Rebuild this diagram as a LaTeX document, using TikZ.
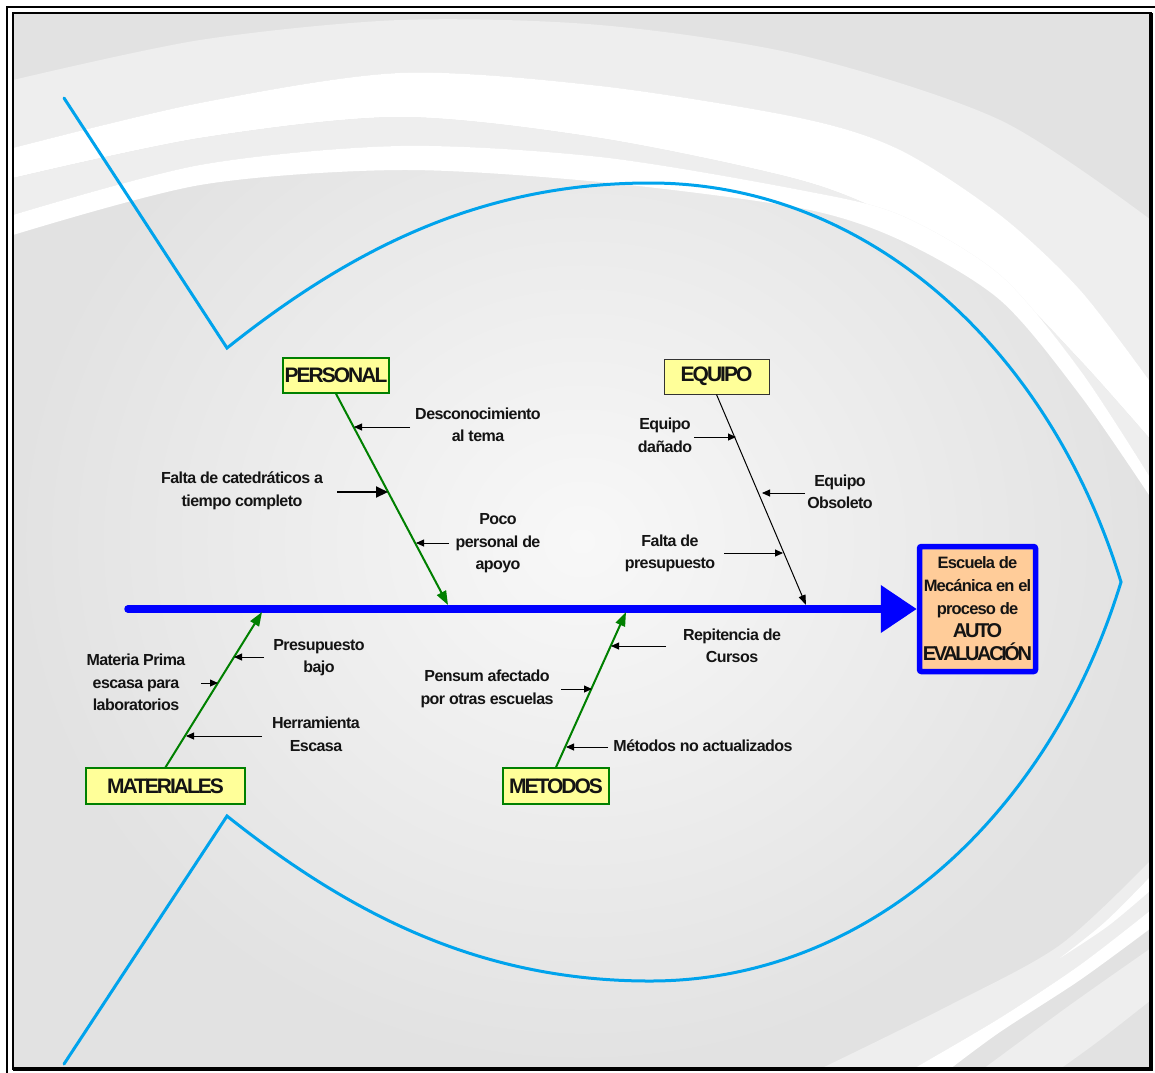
\documentclass[tikz,border=0pt]{standalone}
\usepackage{fontspec}
\setmainfont{Liberation Sans}
\newfontfamily\causef{Liberation Sans Bold}[LetterSpace=-3.5]
\newfontfamily\titf{Liberation Sans Bold}[LetterSpace=-9.5]
\newfontfamily\headf{Liberation Sans Bold}[LetterSpace=-5]
\newfontfamily\headbf{Liberation Sans Bold}[LetterSpace=-12]
\usetikzlibrary{arrows.meta,calc}
\definecolor{fishblue}{RGB}{0,163,236}
\definecolor{bonegreen}{RGB}{0,128,0}
\definecolor{boxyellow}{RGB}{255,255,153}
\definecolor{headfill}{RGB}{255,204,153}
\definecolor{bgout}{RGB}{226,226,226}
\definecolor{bgin}{RGB}{248,248,248}
\definecolor{bandlight}{RGB}{238,238,238}
\definecolor{txt}{RGB}{20,20,20}
\begin{document}
\begin{tikzpicture}[x=1pt,y=-1pt,
  cause/.style={font=\causef\fontsize{16}{22.5}\selectfont, text=txt, align=center, inner sep=0pt},
  catbox/.style={draw=bonegreen, line width=1.5pt, fill=boxyellow, inner sep=0pt, text=txt, font=\titf\fontsize{21}{24}\selectfont},
  bone/.style={draw=bonegreen, line width=2pt, -{Triangle[length=14pt,width=10pt]}},
  sub/.style={draw=black, line width=0.9pt, -{Triangle[length=8pt,width=7pt]}},
  subbig/.style={draw=black, line width=2pt, -{Triangle[length=12pt,width=11pt]}},
  fish/.style={draw=fishblue, line width=3pt, line cap=round, line join=miter}
]
\useasboundingbox (0,0) rectangle (1155,1072);
\fill[white] (0,0) rectangle (1155,1072);
\shade[inner color=bgin, outer color=bgout] (13,13) rectangle (1151,1069);
\begin{scope}
\clip (13,13) rectangle (1151,1069);
% top light band
\fill[bandlight] plot[smooth] coordinates {(13,80) (200,40) (400,20) (600,25) (800,55) (1000,120) (1151,220)}
  -- (1151,383) -- plot[smooth] coordinates {(1151,383) (1080,290) (1000,215) (900,150) (800,118) (600,86) (400,73) (200,103) (13,148)} -- cycle;
% white band A
\fill[white] plot[smooth] coordinates {(13,148) (200,103) (400,73) (600,86) (800,118) (900,150) (1000,215) (1080,290) (1151,383)}
  -- (1151,440) -- plot[smooth] coordinates {(1151,440) (1080,360) (1000,280) (900,220) (800,180) (600,138) (400,117) (200,138) (13,178)} -- cycle;
% light band between A and B
\fill[bandlight] plot[smooth] coordinates {(13,178) (200,138) (400,117) (600,138) (800,180) (900,220) (1000,280) (1080,360) (1151,440)}
  -- (1151,479) -- plot[smooth] coordinates {(1151,479) (1080,370) (1000,275) (900,215) (800,190) (600,157) (400,146) (200,165) (13,215)} -- cycle;
% white band B
\fill[white] plot[smooth] coordinates {(13,215) (200,165) (400,146) (600,157) (800,190) (900,215) (1000,275) (1080,370) (1151,479)}
  -- (1151,498) -- plot[smooth] coordinates {(1151,498) (1080,395) (1000,300) (900,240) (800,208) (600,182) (400,170) (200,185) (13,235)} -- cycle;
% bottom right bands
\fill[bandlight] plot[smooth] coordinates {(820,1069) (950,1005) (1060,945) (1151,860)}
  -- (1151,910) -- plot[smooth] coordinates {(1151,910) (1080,965) (1000,1018) (913,1069)} -- cycle;
\fill[white] plot[smooth] coordinates {(1060,958) (1105,922) (1151,876)} -- (1151,890) -- plot[smooth] coordinates {(1151,890) (1108,926) (1060,958)} -- cycle;
\fill[white] plot[smooth] coordinates {(913,1069) (1000,1018) (1080,965) (1151,910)}
  -- (1151,928) -- plot[smooth] coordinates {(1151,928) (1080,980) (1000,1032) (950,1069)} -- cycle;
\fill[bandlight] plot[smooth] coordinates {(983,1069) (1070,1005) (1151,948)} -- (1151,1000) -- plot[smooth] coordinates {(1151,1000) (1100,1040) (1060,1069)} -- cycle;
\end{scope}
% frame
\draw[line width=2pt] (7,1080) -- (7,7) -- (1160,7);
\draw[line width=2pt] (13,13) rectangle (1151,1069);
\draw[line width=3.5pt] (1151,13) -- (1151,1069) -- (13,1069);
% fish outline
\draw[fish] (64,98) -- (227,348) .. controls (350,250) and (480,183) .. (650,183)
  .. controls (870,183) and (1050,350) .. (1121,582)
  .. controls (1050,814) and (870,981) .. (650,981)
  .. controls (480,981) and (350,914) .. (227,816) -- (64,1064);
% head
\node[draw=blue, line width=5.5pt, fill=headfill, rounded corners=2pt, minimum width=116pt, minimum height=125pt, inner sep=0pt, align=center, text=txt, font=\headf\fontsize{16.5}{23}\selectfont] (head) at (977.5,609)
  {Escuela de\\Mecánica en el\\proceso de\\{\headbf\fontsize{20}{24}\selectfont AUTO}\\{\headbf\fontsize{20}{24}\selectfont EVALUACIÓN}};
% spine
\coordinate (tailS) at (128,609);
\draw[draw=blue, line width=7.5pt, line cap=round, -{Triangle[length=36pt,width=46pt]}] (tailS) -- (head.west);
% category boxes
\node[catbox, minimum width=106pt, minimum height=35pt] (pers) at (336,375.5) {PERSONAL};
\node[catbox, draw=black!80, line width=1pt, minimum width=105pt, minimum height=35pt] (equi) at (716.5,376.5) {EQUIPO};
\node[catbox, minimum width=159pt, minimum height=36pt] (mate) at (165.5,786) {MATERIALES};
\node[catbox, minimum width=106pt, minimum height=36pt] (meto) at (556,786) {METODOS};
% bones
\coordinate (sp1) at (448,605);
\coordinate (sp2) at (806,605);
\coordinate (sp3) at (262,612);
\coordinate (sp4) at (626,612);
\draw[bone] (pers.south) -- (sp1);
\draw[black, line width=1pt, -{Triangle[length=10pt,width=7pt]}] (equi.south) -- (sp2);
\draw[bone] (mate.north) -- (sp3);
\draw[bone] (meto.north) -- (sp4);
% causes PERSONAL
\node[cause] (c1) at (478,425) {Desconocimiento\\al tema};
\coordinate (c1a) at (410,427); \coordinate (c1b) at (354,427);
\draw[sub] (c1a) -- (c1b);
\node[cause] (c2) at (242,491) {Falta de catedráticos a\\tiempo completo};
\coordinate (c2a) at (337,492); \coordinate (c2b) at (388,492);
\draw[subbig] (c2a) -- (c2b);
\node[cause] (c3) at (498,543.5) {Poco\\personal de\\apoyo};
\coordinate (c3a) at (449,543); \coordinate (c3b) at (416,543);
\draw[sub] (c3a) -- (c3b);
% causes EQUIPO
\node[cause] (c4) at (665,435.5) {Equipo\\dañado};
\coordinate (c4a) at (694,437); \coordinate (c4b) at (736,437);
\draw[sub] (c4a) -- (c4b);
\node[cause] (c5) at (840,492) {Equipo\\Obsoleto};
\coordinate (c5a) at (805,493); \coordinate (c5b) at (762,493);
\draw[sub] (c5a) -- (c5b);
\node[cause] (c6) at (670,553.5) {Falta de\\presupuesto};
\coordinate (c6a) at (724,553); \coordinate (c6b) at (783,553);
\draw[sub] (c6a) -- (c6b);
% causes MATERIALES
\node[cause] (c7) at (319,657.5) {Presupuesto\\bajo};
\coordinate (c7a) at (264,657); \coordinate (c7b) at (234,657);
\draw[sub] (c7a) -- (c7b);
\node[cause] (c8) at (136,682.5) {Materia Prima\\escasa para\\laboratorios};
\coordinate (c8a) at (201,683); \coordinate (c8b) at (218,683);
\draw[sub] (c8a) -- (c8b);
\node[cause] (c9) at (316,734.5) {Herramienta\\Escasa};
\coordinate (c9a) at (262,736); \coordinate (c9b) at (186,736);
\draw[sub] (c9a) -- (c9b);
% causes METODOS
\node[cause] (c10) at (732,646) {Repitencia de\\Cursos};
\coordinate (c10a) at (666,646); \coordinate (c10b) at (611,646);
\draw[sub] (c10a) -- (c10b);
\node[cause] (c11) at (487,689) {Pensum afectado\\por otras escuelas};
\coordinate (c11a) at (561,689); \coordinate (c11b) at (592,689);
\draw[sub] (c11a) -- (c11b);
\node[cause] (c12) at (703,746) {Métodos no actualizados};
\coordinate (c12a) at (608,747); \coordinate (c12b) at (566,747);
\draw[sub] (c12a) -- (c12b);
\end{tikzpicture}
\end{document}
